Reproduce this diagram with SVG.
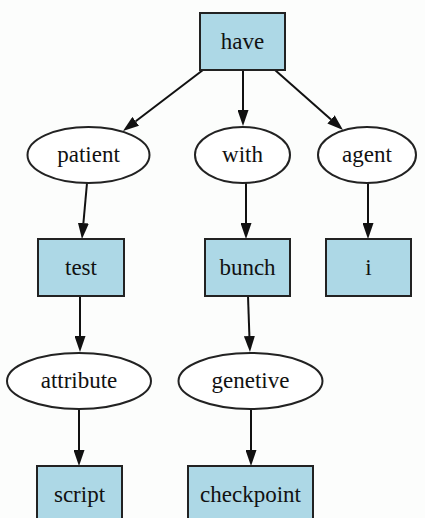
<svg xmlns="http://www.w3.org/2000/svg" width="425" height="518" viewBox="0 0 425 518" font-family="Liberation Serif, DejaVu Serif, serif">
<style>
.box{fill:#add8e6;stroke:#222;stroke-width:2}
.ell{fill:#fff;stroke:#222;stroke-width:2}
.lbl{font-size:23px;fill:#111;text-anchor:middle}
.edge{stroke:#111;stroke-width:2;fill:none;marker-end:url(#ah)}
</style>
<defs>
<marker id="ah" markerUnits="userSpaceOnUse" markerWidth="16" markerHeight="11" refX="0" refY="5.5" orient="auto">
<path d="M0,0 L16,5.5 L0,11 z" fill="#111"/>
</marker>
</defs>
<rect width="425" height="518" fill="#fcfdfc"/>
<g id="connectors">
<line class="edge" x1="203" y1="70" x2="135.7" y2="121.3"/>
<line class="edge" x1="243" y1="70" x2="243" y2="110"/>
<line class="edge" x1="275" y1="70" x2="331" y2="119.4"/>
<line class="edge" x1="87" y1="183" x2="83.4" y2="223.1"/>
<line class="edge" x1="246" y1="183" x2="246" y2="223"/>
<line class="edge" x1="368" y1="183" x2="368" y2="223"/>
<line class="edge" x1="80" y1="296" x2="80" y2="336"/>
<line class="edge" x1="248" y1="296" x2="249.4" y2="336"/>
<line class="edge" x1="79" y1="409" x2="79" y2="450"/>
<line class="edge" x1="251" y1="409" x2="251" y2="450"/>
</g>
<g id="have"><rect class="box" x="200" y="13" width="85" height="57"/><text class="lbl" x="242.5" y="49">have</text></g>
<g id="patient"><ellipse class="ell" cx="88.5" cy="155" rx="61" ry="28"/><text class="lbl" x="88.5" y="162">patient</text></g>
<g id="with"><ellipse class="ell" cx="242.5" cy="155" rx="47.5" ry="28"/><text class="lbl" x="242.5" y="162">with</text></g>
<g id="agent"><ellipse class="ell" cx="367" cy="155" rx="49" ry="28"/><text class="lbl" x="367" y="162">agent</text></g>
<g id="test"><rect class="box" x="38" y="239" width="86" height="57"/><text class="lbl" x="81" y="275">test</text></g>
<g id="bunch"><rect class="box" x="205" y="239" width="85" height="57"/><text class="lbl" x="247.5" y="275">bunch</text></g>
<g id="i"><rect class="box" x="326" y="239" width="85" height="57"/><text class="lbl" x="368.5" y="275">i</text></g>
<g id="attribute"><ellipse class="ell" cx="79" cy="381" rx="72" ry="28"/><text class="lbl" x="79" y="388">attribute</text></g>
<g id="genetive"><ellipse class="ell" cx="250.5" cy="381" rx="72" ry="28"/><text class="lbl" x="250.5" y="388">genetive</text></g>
<g id="script"><rect class="box" x="37" y="466" width="85" height="57"/><text class="lbl" x="79.5" y="502">script</text></g>
<g id="checkpoint"><rect class="box" x="188" y="466" width="125" height="57"/><text class="lbl" x="250.5" y="502">checkpoint</text></g>
</svg>
